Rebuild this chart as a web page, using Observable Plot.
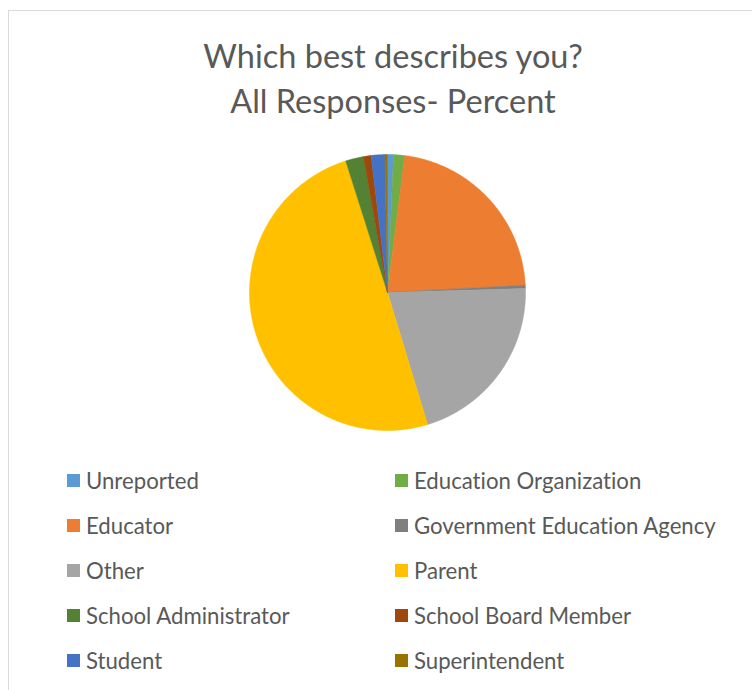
<!DOCTYPE html>
<html>
<head>
<meta charset="utf-8">
<script src="https://cdn.jsdelivr.net/npm/d3@7"></script>
<script src="https://cdn.jsdelivr.net/npm/@observablehq/plot@0.6"></script>
<style>
  html, body { margin: 0; padding: 0; background: #fff; }
  #wrap { position: relative; width: 752px; height: 690px; overflow: hidden; background: #fff; font-variant-ligatures: none; }
  #frame { position: absolute; left: 8px; top: 10px; width: 800px; height: 720px; border: 1px solid #d9d9d9; box-sizing: border-box; }
  #title { position: absolute; left: 0; top: 33px; width: 786px; text-align: center; font-family: Lato, "Open Sans", sans-serif; font-size: 32.5px; line-height: 45px; color: #595959; }
  #chart { position: absolute; left: 0; top: 140px; }
  #legend { position: absolute; left: 67px; top: 458px; display: grid; grid-template-columns: 328px 328px; font-family: Lato, "Open Sans", sans-serif; font-size: 22.2px; color: #595959; }
  .item { display: flex; align-items: center; height: 45px; white-space: nowrap; }
  .sw { width: 13px; height: 13px; margin-right: 6px; flex: none; }
</style>
</head>
<body>
<div id="wrap">
  <div id="frame"></div>
  <div id="title">Which best describes you?<br>All Responses- Percent</div>
  <div id="chart"></div>
  <div id="legend"></div>
</div>
<script>
const labels = ["Unreported", "Education Organization", "Educator", "Government Education Agency", "Other", "Parent", "School Administrator", "School Board Member", "Student", "Superintendent"];
const values = [0.7, 1.3, 22.2, 0.4, 20.8, 49.9, 2.1, 0.9, 1.6, 0.3];
const colors = ["#5B9BD5", "#70AD47", "#ED7D31", "#7F7F7F", "#A5A5A5", "#FFC000", "#548235", "#9E480E", "#4472C4", "#997300"];

// build slice polygons (clockwise from 12 o'clock)
const total = d3.sum(values);
const pts = [];
let start = 0;
labels.forEach((label, i) => {
  const a0 = start, a1 = start + values[i] / total * 2 * Math.PI;
  start = a1;
  pts.push({label, x: 0, y: 0});
  const n = Math.max(2, Math.ceil((a1 - a0) / (Math.PI / 360)));
  for (let k = 0; k <= n; k++) {
    const a = a0 + (a1 - a0) * k / n;
    pts.push({label, x: Math.sin(a), y: Math.cos(a)});
  }
  pts.push({label, x: 0, y: 0});
});

const W = 752, H = 310, R = 138, CX = 387, CY = 152;
const chart = Plot.plot({
  width: W, height: H, margin: 0,
  x: {domain: [-CX / R, (W - CX) / R], axis: null},
  y: {domain: [-(H - CY) / R, CY / R], axis: null},
  color: {domain: labels, range: colors},
  marks: [
    Plot.line(pts, {x: "x", y: "y", z: "label", fill: "label", stroke: "label", strokeWidth: 0.5, curve: "linear"})
  ]
});
document.getElementById("chart").appendChild(chart);

const color = chart.scale("color");
const legend = document.getElementById("legend");
labels.forEach((label) => {
  const item = document.createElement("div");
  item.className = "item";
  const sw = document.createElement("span");
  sw.className = "sw";
  sw.style.background = color.range[color.domain.indexOf(label)];
  const t = document.createElement("span");
  t.textContent = label;
  item.appendChild(sw); item.appendChild(t);
  legend.appendChild(item);
});
</script>
</body>
</html>
